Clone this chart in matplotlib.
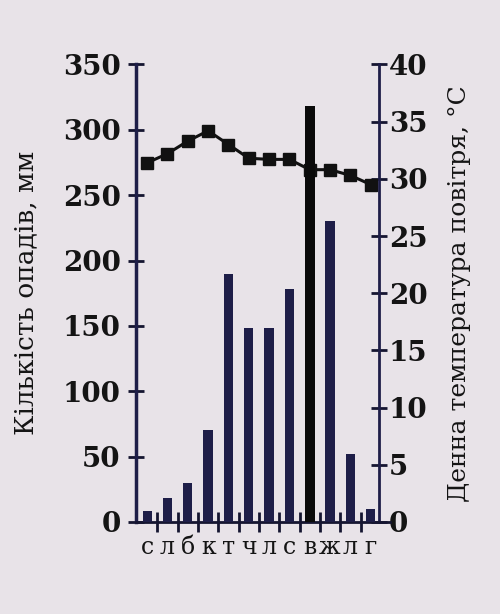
import matplotlib
matplotlib.use('Agg')
import matplotlib.pyplot as plt
import numpy as np

plt.rcParams['font.family'] = ['DejaVu Serif']

# ========================== 数据 ==========================
months = ['с', 'л', 'б', 'к', 'т', 'ч', 'л', 'с', 'в', 'ж', 'л', 'г']
precip = [8, 18, 30, 70, 190, 148, 148, 178, 318, 230, 52, 10]      # мм
temp = [31.4, 32.2, 33.3, 34.2, 33.0, 31.8, 31.7, 31.7, 30.8, 30.8, 30.3, 29.5]  # °C

BG = '#e8e3e8'
NAVY = '#1e1e48'
INK = '#141414'

fig = plt.figure(figsize=(5.0, 6.14), dpi=100)
fig.patch.set_facecolor(BG)

ax = fig.add_axes([0.272, 0.150, 0.508, 0.745])
ax2 = ax.twinx()

x = np.arange(len(months))
colors = [NAVY] * len(months)
colors[8] = '#0a0a0a'
widths = [0.46] * len(months)
widths[8] = 0.5

# 柱状图 (降水量)
ax.bar(x, precip, width=widths, color=colors, zorder=3)
ax.set_ylim(0, 350)
ax.set_xlim(-0.55, 11.95)

# 折线 (温度)
ax2.plot(x, temp, '-s', color='#111111', lw=2.2, markersize=9, zorder=2)
ax2.set_ylim(0, 40)

# 柱子盖在折线上面
ax.set_zorder(ax2.get_zorder() + 1)
ax.patch.set_visible(False)
ax2.patch.set_visible(False)

for a in (ax, ax2):
    a.spines['top'].set_visible(False)

ax.spines['right'].set_visible(False)
ax2.spines['left'].set_visible(False)
ax2.spines['bottom'].set_visible(False)
ax.spines['left'].set_linewidth(2.5)
ax.spines['left'].set_color(NAVY)
ax.spines['bottom'].set_linewidth(2.0)
ax.spines['bottom'].set_color('#151530')
ax2.spines['right'].set_position(('data', 11.42))
ax2.spines['right'].set_linewidth(2.0)
ax2.spines['right'].set_color(NAVY)

# 刻度
ax.set_yticks(np.arange(0, 351, 50))
ax.tick_params(axis='y', direction='inout', length=12, width=2, color='#151530',
               labelcolor=INK, labelsize=20, pad=5)
ax2.set_yticks(np.arange(0, 41, 5))
ax2.tick_params(axis='y', direction='inout', length=12, width=2, color='#151530',
                labelcolor=INK, labelsize=20, pad=1)
for lbl in ax.get_yticklabels() + ax2.get_yticklabels():
    lbl.set_fontweight('bold')

ax.set_xticks(x)
ax.set_xticklabels(months)
ax.tick_params(axis='x', length=0, labelsize=17, pad=10, labelcolor=INK)
ax.set_xticks(np.arange(0.5, 11, 1), minor=True)
ax.tick_params(axis='x', which='minor', direction='inout', length=14, width=2,
               color='#151530')

ax.set_ylabel('Кількість опадів, мм', fontsize=19, labelpad=18, color=INK)
ax2.set_ylabel('Денна температура повітря, °С', fontsize=18, labelpad=15,
               color=INK)

fig.savefig('out.png', dpi=100, facecolor=BG)
